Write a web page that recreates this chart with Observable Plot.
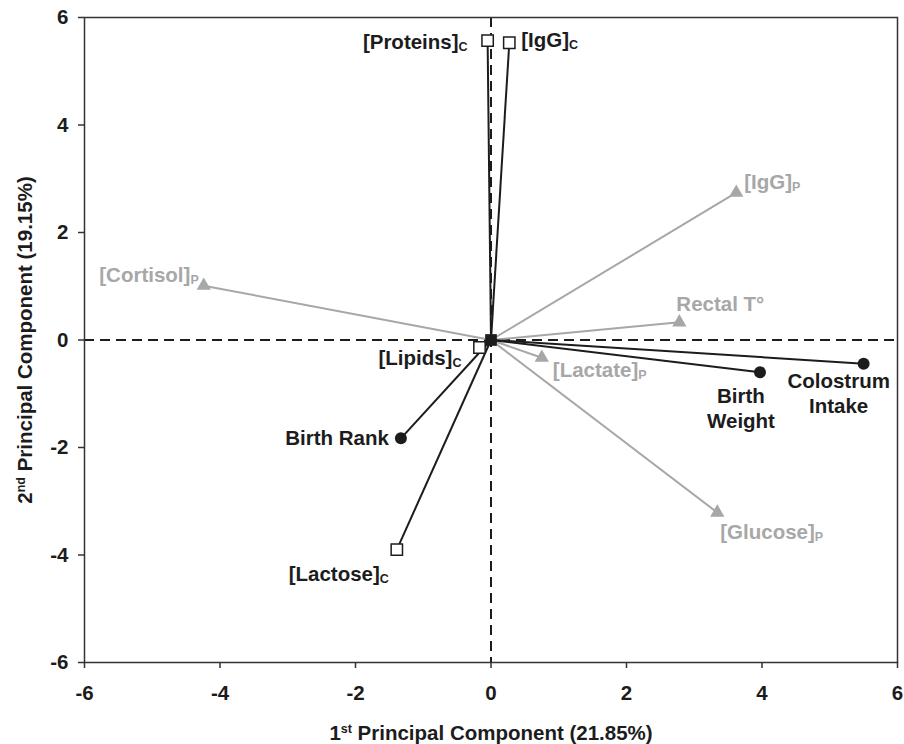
<!DOCTYPE html>
<html>
<head>
<meta charset="utf-8">
<script src="https://cdn.jsdelivr.net/npm/d3@7"></script>
<script src="https://cdn.jsdelivr.net/npm/@observablehq/plot@0.6"></script>
<style>
  html, body { margin: 0; padding: 0; background: #fff; }
  svg { display: block; }
</style>
</head>
<body>
<div id="chart"></div>
<script>
// ---- Data ----
// Colostrum composition variables (open squares)
const colostrumNames = ["[Proteins]_{C}", "[IgG]_{C}", "[Lipids]_{C}", "[Lactose]_{C}"];
const colostrumPC1 = [-0.05, 0.27, -0.17, -1.39];
const colostrumPC2 = [5.57, 5.53, -0.14, -3.90];

// Piglet variables (filled circles)
const pigletNames = ["Birth Rank", "Birth\nWeight", "Colostrum\nIntake"];
const pigletPC1 = [-1.33, 3.97, 5.50];
const pigletPC2 = [-1.83, -0.60, -0.44];

// Plasma / physiological variables (grey triangles)
const plasmaNames = ["[Cortisol]_{P}", "[IgG]_{P}", "Rectal T°", "[Lactate]_{P}", "[Glucose]_{P}"];
const plasmaPC1 = [-4.24, 3.62, 2.78, 0.75, 3.34];
const plasmaPC2 = [1.01, 2.74, 0.33, -0.33, -3.21];

const xTicks = [-6, -4, -2, 0, 2, 4, 6];
const yTicks = [-6, -4, -2, 0, 2, 4, 6];
const xTitle = "1^{st} Principal Component (21.85%)";
const yTitle = "2^{nd} Principal Component (19.15%)";

// Label placement (pixel offsets from each point)
const placement = {
  "[Proteins]_{C}": {anchor: "end", dx: -20, dy: 0},
  "[IgG]_{C}": {anchor: "start", dx: 12, dy: -4},
  "[Lipids]_{C}": {anchor: "end", dx: -18, dy: 9},
  "[Lactose]_{C}": {anchor: "end", dx: -8, dy: 23},
  "Birth Rank": {anchor: "end", dx: -12, dy: -1},
  "Birth\nWeight": {anchor: "middle", dx: -19, dy: 35},
  "Colostrum\nIntake": {anchor: "middle", dx: -25, dy: 29},
  "[Cortisol]_{P}": {anchor: "end", dx: -5, dy: -12},
  "[IgG]_{P}": {anchor: "start", dx: 8, dy: -12},
  "Rectal T°": {anchor: "start", dx: -3, dy: -19},
  "[Lactate]_{P}": {anchor: "start", dx: 11, dy: 11},
  "[Glucose]_{P}": {anchor: "start", dx: 3, dy: 18}
};

// ---- Build tables ----
const colostrum = colostrumNames.map((n, i) => ({name: n, x: colostrumPC1[i], y: colostrumPC2[i]}));
const piglet = pigletNames.map((n, i) => ({name: n, x: pigletPC1[i], y: pigletPC2[i]}));
const plasma = plasmaNames.map((n, i) => ({name: n, x: plasmaPC1[i], y: plasmaPC2[i]}));

const BLACK = "#1c1c1c";
const GREY = "#a7a7a7";
const FS = 20.5;

function labelMarks(data, color) {
  return ["start", "middle", "end"].map(a => {
    const sub = data.filter(d => placement[d.name].anchor === a);
    return Plot.text(sub, {
      x: "x", y: "y", text: "name",
      textAnchor: a,
      fill: color,
      fontSize: FS, fontWeight: "bold",
      lineHeight: 1.22,
      render(index, scales, values, dims, context, next) {
        const g = next(index, scales, values, dims, context);
        d3.select(g).selectAll("text").each(function(_, j) {
          const p = placement[sub[index[j]].name];
          const tr = this.getAttribute("transform") || "";
          this.setAttribute("transform", `translate(${p.dx},${p.dy}) ${tr}`);
        });
        return g;
      }
    });
  });
}

const chart = Plot.plot({
  width: 904,
  height: 744,
  marginLeft: 84,
  marginRight: 7,
  marginTop: 17,
  marginBottom: 82,
  style: {fontFamily: "'Liberation Sans', Arial, Helvetica, sans-serif", fontWeight: "bold", fontSize: FS + "px", color: BLACK, background: "#fff"},
  x: {domain: [-6, 6]},
  y: {domain: [-6, 6]},
  marks: [
    Plot.ruleX([0], {stroke: BLACK, strokeWidth: 2, strokeDasharray: "10,6"}),
    Plot.ruleY([0], {stroke: BLACK, strokeWidth: 2, strokeDasharray: "10,6"}),
    Plot.frame({stroke: "#333", strokeWidth: 1.5}),
    Plot.axisX({ticks: xTicks, tickSize: 6, tickPadding: 17, tickFormat: d => String(d), label: null, fontSize: FS, fontWeight: "bold", stroke: "#333", strokeWidth: 1.5, fill: BLACK}),
    Plot.axisY({ticks: yTicks, tickSize: 6, tickPadding: 10, tickFormat: d => String(d), label: null, fontSize: FS, fontWeight: "bold", stroke: "#333", strokeWidth: 1.5, fill: BLACK}),
    // vectors
    Plot.link(plasma, {x1: () => 0, y1: () => 0, x2: "x", y2: "y", stroke: GREY, strokeWidth: 2}),
    Plot.link([...colostrum, ...piglet], {x1: () => 0, y1: () => 0, x2: "x", y2: "y", stroke: BLACK, strokeWidth: 2}),
    // markers
    Plot.dot(plasma, {x: "x", y: "y", symbol: "triangle", r: 5.3, fill: GREY, stroke: "none"}),
    Plot.dot(piglet, {x: "x", y: "y", symbol: "circle", r: 6, fill: BLACK, stroke: "none"}),
    Plot.dot(colostrum, {x: "x", y: "y", symbol: "square", r: 6.4, fill: "#fff", stroke: BLACK, strokeWidth: 1.5}),
    // origin marker
    Plot.dot([{x: 0, y: 0}], {x: "x", y: "y", symbol: "square", r: 6.6, fill: BLACK, stroke: "none"}),
    // labels
    ...labelMarks([...colostrum, ...piglet], BLACK),
    ...labelMarks(plasma, GREY),
    // axis titles
    Plot.text([xTitle], {frameAnchor: "bottom", text: d => d, dy: 71, textAnchor: "middle", lineAnchor: "middle", fontSize: FS, fontWeight: "bold", fill: BLACK}),
    Plot.text([yTitle], {frameAnchor: "left", text: d => d, dx: -59, rotate: -90, textAnchor: "middle", lineAnchor: "middle", fontSize: FS, fontWeight: "bold", fill: BLACK})
  ]
});

// Rich text: _{...} subscript, ^{...} superscript
const NS = "http://www.w3.org/2000/svg";
d3.select(chart).selectAll("text").each(function() {
  if (this.querySelector("tspan")) return;
  const s = this.textContent;
  if (!/[_^]\{/.test(s)) return;
  this.textContent = "";
  const re = /([_^])\{([^}]*)\}|([^_^]+)/g;
  let m, cur = 0;
  while ((m = re.exec(s))) {
    const t = document.createElementNS(NS, "tspan");
    let target = 0;
    if (m[3] !== undefined) {
      t.textContent = m[3];
    } else {
      t.textContent = m[2];
      t.setAttribute("font-size", "12.5px");
      target = m[1] === "_" ? 2 : -7;
    }
    if (target !== cur) t.setAttribute("dy", target - cur);
    cur = target;
    this.appendChild(t);
  }
});

document.getElementById("chart").appendChild(chart);
</script>
</body>
</html>
